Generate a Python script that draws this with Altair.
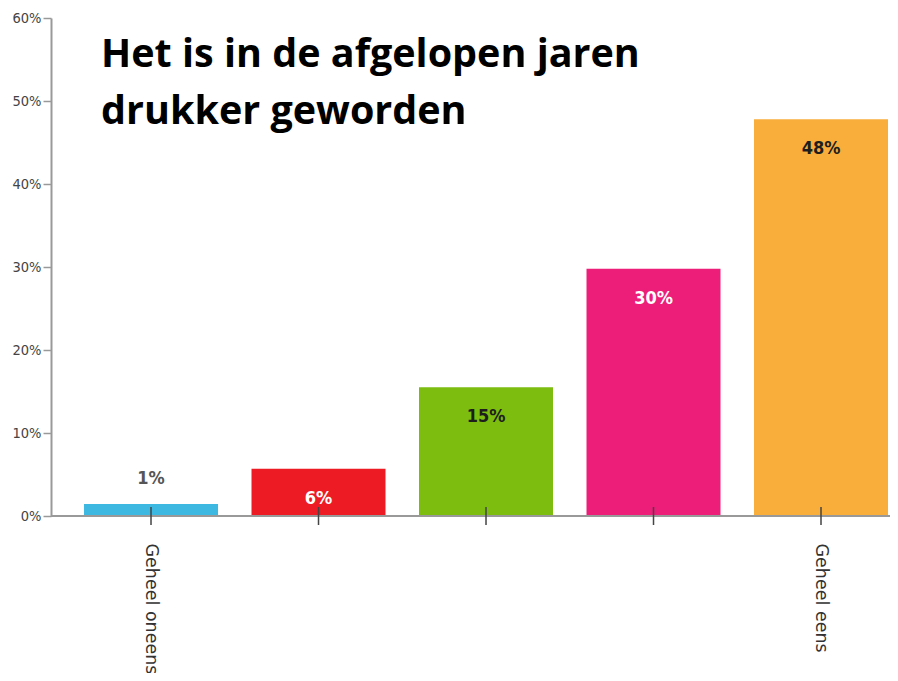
import altair as alt
import pandas as pd

categories = ["Geheel oneens", "Oneens", "Neutraal", "Eens", "Geheel eens"]
tick_labels = ["Geheel oneens", "", "", "", "Geheel eens"]
values = [0.0145, 0.057, 0.155, 0.298, 0.478]
value_labels = ["1%", "6%", "15%", "30%", "48%"]
bar_colors = ["#3DB9E1", "#ED1C24", "#7CBD10", "#EC1E79", "#F9AE3C"]
label_colors = ["#555555", "#FFFFFF", "#1E1E1E", "#FFFFFF", "#1E1E1E"]
title_lines = ["Het is in de afgelopen jaren", "drukker geworden"]

df = pd.DataFrame({"cat": categories, "value": values, "label": value_labels})

W, H = 839, 498

label_expr = " : ".join(
    f"datum.value == '{c}' ? '{t}'" for c, t in zip(categories, tick_labels)
) + " : ''"

x_enc = alt.X(
    "cat:N",
    sort=categories,
    scale=alt.Scale(paddingInner=0.2, paddingOuter=0.1045, align=0.943),
    axis=alt.Axis(
        title=None,
        domain=False,
        ticks=False,
        labelAngle=90,
        labelAlign="left",
        labelBaseline="middle",
        labelFont="DejaVu Sans",
        labelFontSize=17.5,
        labelColor="#333333",
        labelPadding=27,
        labelExpr=label_expr,
    ),
)

y_enc = alt.Y(
    "value:Q",
    scale=alt.Scale(domain=[0, 0.6], nice=False),
    axis=alt.Axis(
        title=None,
        format=".0%",
        values=[0, 0.1, 0.2, 0.3, 0.4, 0.5, 0.6],
        grid=False,
        domainColor="#999999",
        domainWidth=2,
        tickColor="#999999",
        tickWidth=1.5,
        tickSize=8,
        labelPadding=2,
        labelFont="DejaVu Sans Condensed",
        labelFontSize=14.5,
        labelColor="#444444",
    ),
)

base = alt.Chart(df)

bars = base.mark_bar(stroke=None).encode(
    x=x_enc,
    y=y_enc,
    color=alt.Color("cat:N", scale=alt.Scale(domain=categories, range=bar_colors), legend=None),
)

baseline = base.mark_rule(color="#999999", strokeWidth=2).encode(y=alt.datum(0))

ticks = base.mark_tick(orient="vertical", size=18, thickness=1.5, color="#444444", opacity=1).encode(
    x=alt.X("cat:N", sort=categories),
    y=alt.datum(0),
)

label_font = "Liberation Sans Narrow, DejaVu Sans Condensed, sans-serif"

inside = base.transform_filter("datum.value >= 0.03").mark_text(
    font=label_font, fontWeight="bold", fontSize=18, baseline="middle", dy=30
).encode(
    x=alt.X("cat:N", sort=categories),
    y="value:Q",
    text="label:N",
    color=alt.Color("cat:N", scale=alt.Scale(domain=categories, range=label_colors), legend=None),
)

outside = base.transform_filter("datum.value < 0.03").mark_text(
    font=label_font, fontWeight="bold", fontSize=18, baseline="middle", dy=-25
).encode(
    x=alt.X("cat:N", sort=categories),
    y="value:Q",
    text="label:N",
    color=alt.Color("cat:N", scale=alt.Scale(domain=categories, range=label_colors), legend=None),
)

title = alt.Chart(pd.DataFrame({"t": ["\n".join(title_lines)]})).mark_text(
    font="Open Sans",
    fontWeight="bold",
    fontSize=39.5,
    align="left",
    baseline="alphabetic",
    lineBreak="\n",
    lineHeight=57,
    color="#000000",
).encode(x=alt.value(50), y=alt.value(49), text="t:N")

chart = (
    alt.layer(bars, baseline, ticks, inside, outside, title)
    .resolve_scale(color="independent")
    .properties(
        width=W,
        height=H,
        autosize=alt.AutoSizeParams(type="none"),
        padding={"left": 43, "top": 10, "right": 0, "bottom": 157},
    )
    .configure_view(stroke=None)
)

chart.save("out.html", embed_options={"renderer": "svg", "actions": False})
